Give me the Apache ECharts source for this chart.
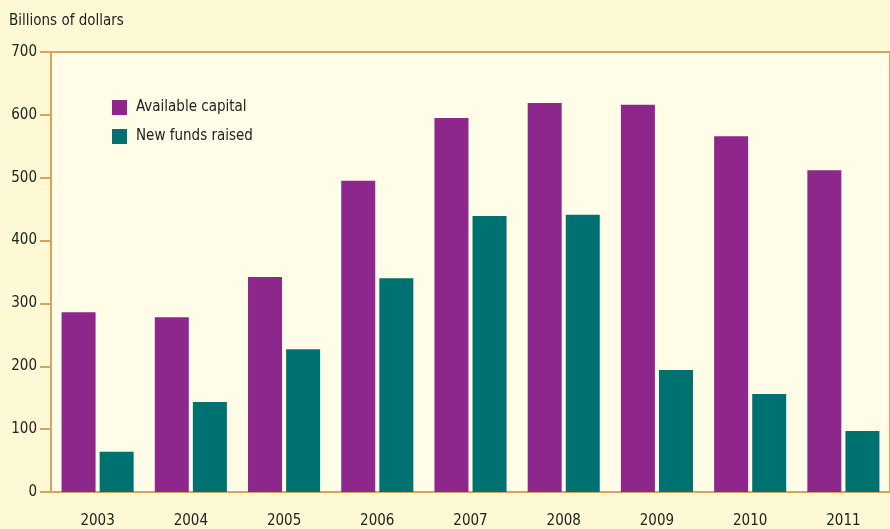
<!DOCTYPE html>
<html>
<head>
<meta charset="utf-8">
<script src="https://cdn.jsdelivr.net/npm/echarts@6/dist/echarts.min.js"></script>
<style>
  html, body { margin: 0; padding: 0; background: #fef9d5; }
  #chart { width: 890px; height: 529px; }
</style>
</head>
<body>
<div id="chart"></div>
<script>
const years = ['2003', '2004', '2005', '2006', '2007', '2008', '2009', '2010', '2011']
const availableCapital = [286, 278, 342, 495, 595, 619, 616, 566, 512]
const newFundsRaised = [64, 143, 227, 340, 439, 441, 194, 156, 97]

const axisColor = '#d4a55e'
const font = '"Liberation Sans Narrow", "DejaVu Sans Condensed", "Liberation Sans", sans-serif'

const myChart = echarts.init(document.getElementById('chart'))
myChart.setOption({
  backgroundColor: '#fef9d5',
  textStyle: { fontFamily: font },
  title: {
    text: 'Billions of dollars',
    left: 4,
    top: 9,
    textStyle: { fontSize: 15, fontWeight: 'normal', color: '#222', fontFamily: font }
  },
  legend: {
    orient: 'vertical',
    left: 107,
    top: 95,
    itemWidth: 15,
    itemHeight: 15,
    itemGap: 14,
    icon: 'rect',
    textStyle: { fontSize: 15, color: '#222', fontFamily: font, padding: [0, 0, 0, 4] }
  },
  grid: {
    left: 51,
    right: -7,
    top: 52,
    bottom: 37,
    show: true,
    backgroundColor: '#fffce8',
    borderColor: axisColor,
    borderWidth: 2
  },
  xAxis: {
    type: 'category',
    data: years,
    axisLine: { lineStyle: { color: axisColor, width: 2 } },
    axisTick: { length: 10, lineStyle: { color: axisColor, width: 2 } },
    axisLabel: { color: '#222', fontSize: 15, margin: 22, fontFamily: font }
  },
  yAxis: {
    type: 'value',
    min: 0,
    max: 700,
    interval: 100,
    splitLine: { show: false },
    axisLine: { show: true, lineStyle: { color: axisColor, width: 2 } },
    axisTick: { show: true, length: 11, lineStyle: { color: axisColor, width: 2 } },
    axisLabel: { color: '#222', fontSize: 15, margin: 14, fontFamily: font }
  },
  series: [
    {
      name: 'Available capital',
      type: 'bar',
      data: availableCapital,
      barWidth: 34,
      barGap: '12%',
      itemStyle: { color: '#8e278c' }
    },
    {
      name: 'New funds raised',
      type: 'bar',
      data: newFundsRaised,
      barWidth: 34,
      itemStyle: { color: '#007171' }
    }
  ]
})
</script>
</body>
</html>
